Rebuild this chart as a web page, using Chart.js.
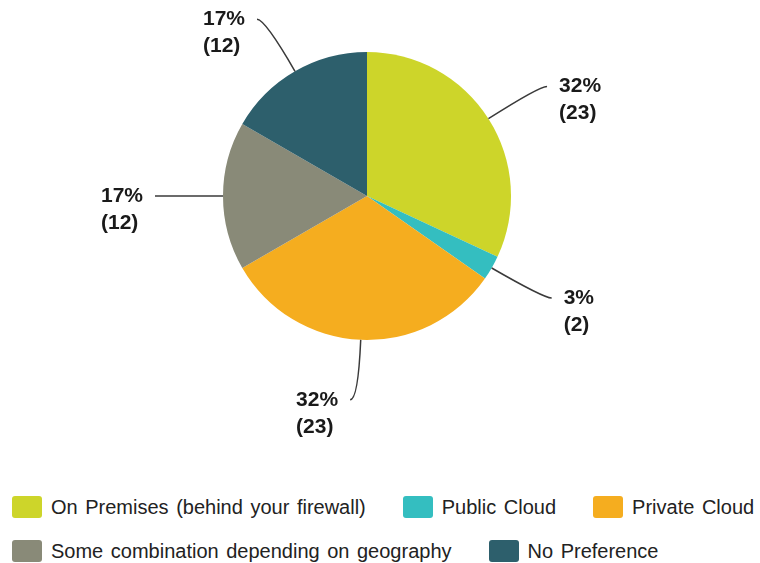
<!DOCTYPE html>
<html lang="en">
<head>
    <meta charset="UTF-8">
    <title>Hosting preference</title>
    <script src="https://cdn.jsdelivr.net/npm/chart.js"></script>
    <style>
        body { margin: 0; background: #fff; width: 760px; height: 563px; overflow: hidden; position: relative; font-family: "Liberation Sans", Arial, sans-serif; }
        #box { position: absolute; left: 0; top: 0; width: 760px; height: 480px; }
        #legenda { position: absolute; left: 12px; top: 496px; }
        .linha { display: flex; height: 22px; margin-bottom: 22px; }
        .item { display: flex; align-items: center; margin-right: 37px; white-space: nowrap; font-size: 20px; word-spacing: 2px; color: #222; }
        .quad { width: 30px; height: 22px; border-radius: 3px; margin-right: 9px; }
    </style>
</head>
<body>
    <div id="box"><canvas id="myChart"></canvas></div>
    <div id="legenda"></div>
<script>
    // dados do grafico
    const categorias = ['On Premises (behind your firewall)', 'Public Cloud', 'Private Cloud', 'Some combination depending on geography', 'No Preference'];
    const respostas = [23, 2, 23, 12, 12];
    const percentuais = ['32%', '3%', '32%', '17%', '17%'];
    const cores = ['#CDD52A', '#34BEC0', '#F5AD1F', '#898A78', '#2D5F6C'];
    const linhasLegenda = [[0, 1, 2], [3, 4]];

    // legenda em html
    const legenda = document.getElementById('legenda');
    linhasLegenda.forEach(function (linha) {
        const div = document.createElement('div');
        div.className = 'linha';
        linha.forEach(function (i) {
            const item = document.createElement('div');
            item.className = 'item';
            item.innerHTML = '<span class="quad" style="background:' + cores[i] + '"></span>' + categorias[i];
            div.appendChild(item);
        });
        legenda.appendChild(div);
    });

    // rotulos com linha de chamada
    const rotulos = {
        id: 'rotulos',
        afterDatasetsDraw(chart) {
            const ctx = chart.ctx;
            const arcos = chart.getDatasetMeta(0).data;
            ctx.save();
            arcos.forEach(function (arco, i) {
                const meio = (arco.startAngle + arco.endAngle) / 2;
                const cx = arco.x, cy = arco.y, r = arco.outerRadius;
                const cos = Math.cos(meio), sin = Math.sin(meio);
                const lado = cos >= 0 ? 1 : -1;
                const ax = cx + cos * r, ay = cy + sin * r;
                const bx = cx + cos * (r + 60), by = cy + sin * (r + 60);
                const ex = bx + lado * 8, ey = by;

                ctx.beginPath();
                ctx.moveTo(ax, ay);
                ctx.quadraticCurveTo(bx, by, ex, ey);
                ctx.strokeStyle = '#3a3a3a';
                ctx.lineWidth = 1.5;
                ctx.stroke();

                // bloco de texto alinhado a esquerda
                ctx.fillStyle = '#1a1a1a';
                ctx.font = 'bold 21px "Liberation Sans", Arial, sans-serif';
                ctx.textBaseline = 'middle';
                ctx.textAlign = 'left';
                const l1 = percentuais[i];
                const l2 = '(' + respostas[i] + ')';
                const larg = Math.max(ctx.measureText(l1).width, ctx.measureText(l2).width);
                const tx = lado > 0 ? ex + 12 : ex - 12 - larg;
                ctx.fillText(l1, tx, ey);
                ctx.fillText(l2, tx, ey + 27);
            });
            ctx.restore();
        }
    };

    const dados = {
        labels: categorias,
        datasets: [{
            data: respostas,
            backgroundColor: cores,
            borderWidth: 0
        }]
    };

    const config = {
        type: 'pie',
        data: dados,
        options: {
            responsive: true,
            maintainAspectRatio: false,
            animation: false,
            layout: { padding: { top: 52, bottom: 140, left: 0, right: 26 } },
            plugins: {
                legend: { display: false },
                tooltip: { enabled: false }
            }
        },
        plugins: [rotulos]
    };

    let myChart = new Chart(document.getElementById('myChart'), config);
</script>
</body>
</html>
